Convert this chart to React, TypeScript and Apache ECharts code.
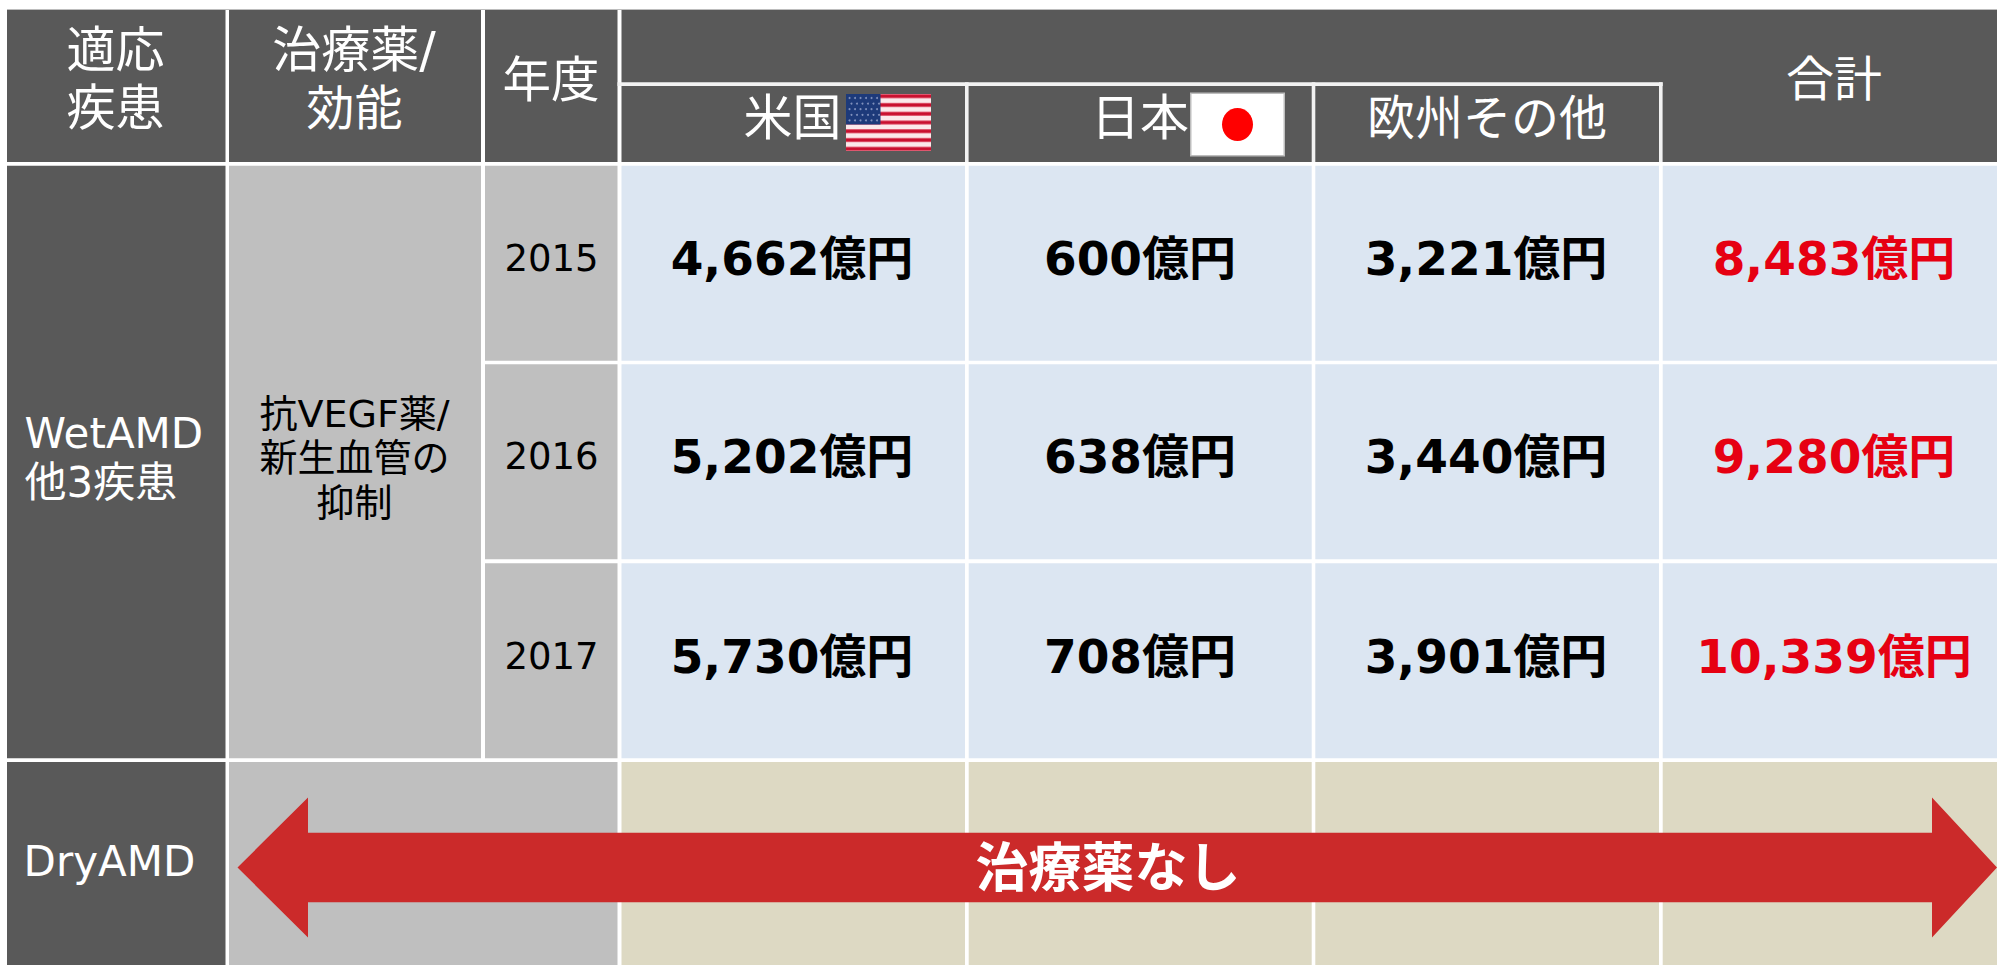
import React, { useEffect, useRef } from "react";
import * as echarts from "echarts";

// ---- data ----
const years = ["2015", "2016", "2017"];
const usValues = ["4,662億円", "5,202億円", "5,730億円"];
const japanValues = ["600億円", "638億円", "708億円"];
const europeValues = ["3,221億円", "3,440億円", "3,901億円"];
const totalValues = ["8,483億円", "9,280億円", "10,339億円"];
const diseaseHeader = ["適応", "疾患"];
const drugHeader = ["治療薬/", "効能"];
const yearHeader = "年度";
const regionHeaders = ["米国", "日本", "欧州その他"];
const totalHeader = "合計";
const wetLabel = ["WetAMD", "他3疾患"];
const drugLabel = ["抗VEGF薬/", "新生血管の", "抑制"];
const dryLabel = "DryAMD";
const noDrugLabel = "治療薬なし";

// ---- layout ----
const W = 1997;
const H = 965;
const DARK = "#595959";
const GREY = "#BFBFBF";
const BLUE = "#DCE6F2";
const TAN = "#DDD9C3";
const RED = "#CB2A2A";
const TOTAL_RED = "#E60012";
const LINE = "#F2F2F2";
const FONT = '"DejaVu Sans", "Noto Sans CJK JP", sans-serif';

const colL = [7, 229, 485, 621.5, 968.7, 1315.3, 1662.7];
const colR = [225.5, 481, 617.5, 965, 1311.7, 1659, 1997];
const rowT = [165.7, 364.3, 563.3];
const rowB = [360.7, 559.3, 758.3];
const rowY = [258.5, 456, 656];
const valueX = [792, 1140, 1486, 1834];

const rect = (x: number, y: number, w: number, h: number, fill: string, z = 1) => ({
  type: "rect",
  z,
  shape: { x, y, width: w, height: h },
  style: { fill },
});
const text = (
  t: string,
  x: number,
  y: number,
  fontSize: number,
  fill: string,
  fontWeight: any = "normal",
  align = "center",
  z = 5,
) => ({
  type: "text",
  z,
  x,
  y,
  style: { text: t, align, verticalAlign: "middle", fontSize, fontFamily: FONT, fontWeight, fill },
});

function buildFlagUS() {
  const out: any[] = [];
  const x0 = 846, y0 = 94, w = 85, h = 57, n = 13;
  out.push(rect(x0, y0, w, h, "#FBE9EB", 6));
  const sh = h / n;
  for (let i = 0; i < n; i += 2) {
    out.push({
      type: "rect", z: 6,
      shape: { x: x0, y: y0 + i * sh, width: w, height: sh },
      style: {
        fill: new echarts.graphic.LinearGradient(0, 0, 0, 1, [
          { offset: 0, color: "#E7798C" },
          { offset: 0.35, color: "#C9102F" },
          { offset: 0.65, color: "#C9102F" },
          { offset: 1, color: "#E7798C" },
        ]),
      },
    });
  }
  out.push(rect(x0, y0, 34.5, 30.5, "#1D3A7A", 7));
  for (let r = 0; r < 5; r++) {
    for (let c = 0; c < 6; c++) {
      out.push({
        type: "circle", z: 8,
        shape: { cx: x0 + 3.5 + c * 5.5 + (r % 2) * 2, cy: y0 + 4 + r * 5.6, r: 1 },
        style: { fill: "#7F90BC" },
      });
    }
  }
  return out;
}

function buildFlagJP() {
  return [
    rect(1190, 92.5, 95, 64, "#BDBDBD", 6),
    rect(1191.5, 94, 92, 61, "#FFFFFF", 7),
    { type: "ellipse", z: 8, shape: { cx: 1237.5, cy: 124.5, rx: 15.5, ry: 16.5 }, style: { fill: "#FF0000" } },
  ];
}

function buildElements() {
  const els: any[] = [];
  // top hairline
  els.push(rect(7, 9, W - 7, 1, "#BDBDBD", 0));
  // header cells
  els.push(rect(colL[0], 10, colR[0] - colL[0], 152, DARK));
  els.push(rect(colL[1], 10, colR[1] - colL[1], 152, DARK));
  els.push(rect(colL[2], 10, colR[2] - colL[2], 152, DARK));
  els.push(rect(colL[3], 10, W - colL[3], 152, DARK));
  // header inner lines
  els.push(rect(617.5, 82.3, 1662.7 - 617.5, 3.7, LINE, 2));
  [965, 1311.7, 1659].forEach((x) => els.push(rect(x, 82.3, 3.6, 79.7, LINE, 2)));

  // body: wet AMD
  els.push(rect(colL[0], rowT[0], colR[0] - colL[0], rowB[2] - rowT[0], DARK));
  els.push(rect(colL[1], rowT[0], colR[1] - colL[1], rowB[2] - rowT[0], GREY));
  for (let r = 0; r < 3; r++) {
    els.push(rect(colL[2], rowT[r], colR[2] - colL[2], rowB[r] - rowT[r], GREY));
    for (let c = 3; c < 7; c++) {
      els.push(rect(colL[c], rowT[r], colR[c] - colL[c], rowB[r] - rowT[r], BLUE));
    }
  }
  // body: dry AMD
  els.push(rect(colL[0], 762, colR[0] - colL[0], H - 762, DARK));
  els.push(rect(colL[1], 762, colR[2] - colL[1], H - 762, GREY));
  for (let c = 3; c < 7; c++) {
    els.push(rect(colL[c], 762, colR[c] - colL[c], H - 762, TAN));
  }

  // arrow
  els.push({
    type: "polygon",
    z: 4,
    shape: {
      points: [
        [237.5, 867.5], [308, 797.5], [308, 832.7], [1932, 832.7], [1932, 797.5],
        [1997, 867.5], [1932, 937.5], [1932, 902.3], [308, 902.3], [308, 937.5],
      ],
    },
    style: { fill: RED },
  });
  els.push(text(noDrugLabel, 1108, 868, 53, "#FFFFFF", "bold"));

  // header text
  els.push(text(diseaseHeader[0], 115.5, 50, 49, "#FFFFFF"));
  els.push(text(diseaseHeader[1], 115.5, 108, 49, "#FFFFFF"));
  els.push(text(drugHeader[0], 354, 50, 49, "#FFFFFF"));
  els.push(text(drugHeader[1], 354.5, 108, 48, "#FFFFFF"));
  els.push(text(yearHeader, 551, 80, 48.5, "#FFFFFF"));
  els.push(text(regionHeaders[0], 792.5, 118, 49, "#FFFFFF"));
  els.push(text(regionHeaders[1], 1140, 118, 49, "#FFFFFF"));
  els.push(text(regionHeaders[2], 1487, 118, 48, "#FFFFFF"));
  els.push(text(totalHeader, 1834, 79, 48, "#FFFFFF"));
  els.push(...buildFlagUS(), ...buildFlagJP());

  // left labels
  els.push(text(wetLabel[0], 24.5, 433, 42, "#FFFFFF", "normal", "left"));
  els.push(text(wetLabel[1], 24.5, 482, 42, "#FFFFFF", "normal", "left"));
  els.push(text(dryLabel, 109.5, 861, 42, "#FFFFFF"));
  [414, 458, 503].forEach((y, i) => els.push(text(drugLabel[i], 354.5, y, 38, "#000000")));

  // rows
  years.forEach((yr, r) => {
    els.push(text(yr, 551.5, rowY[r], 37, "#000000"));
    els.push(text(usValues[r], valueX[0], rowY[r], 47, "#000000", "bold"));
    els.push(text(japanValues[r], valueX[1], rowY[r], 47, "#000000", "bold"));
    els.push(text(europeValues[r], valueX[2], rowY[r], 47, "#000000", "bold"));
    els.push(text(totalValues[r], valueX[3], rowY[r], 47, TOTAL_RED, "bold"));
  });
  return els;
}

export default function App() {
  const ref = useRef<HTMLDivElement>(null);
  useEffect(() => {
    document.body.style.margin = "0";
    document.body.style.overflow = "hidden";
    const chart = echarts.init(ref.current!, undefined, { renderer: "svg" });
    chart.setOption({
      animation: false,
      backgroundColor: "#FFFFFF",
      graphic: { elements: buildElements() },
    });
    return () => chart.dispose();
  }, []);
  return <div ref={ref} style={{ width: W, height: H }} />;
}
